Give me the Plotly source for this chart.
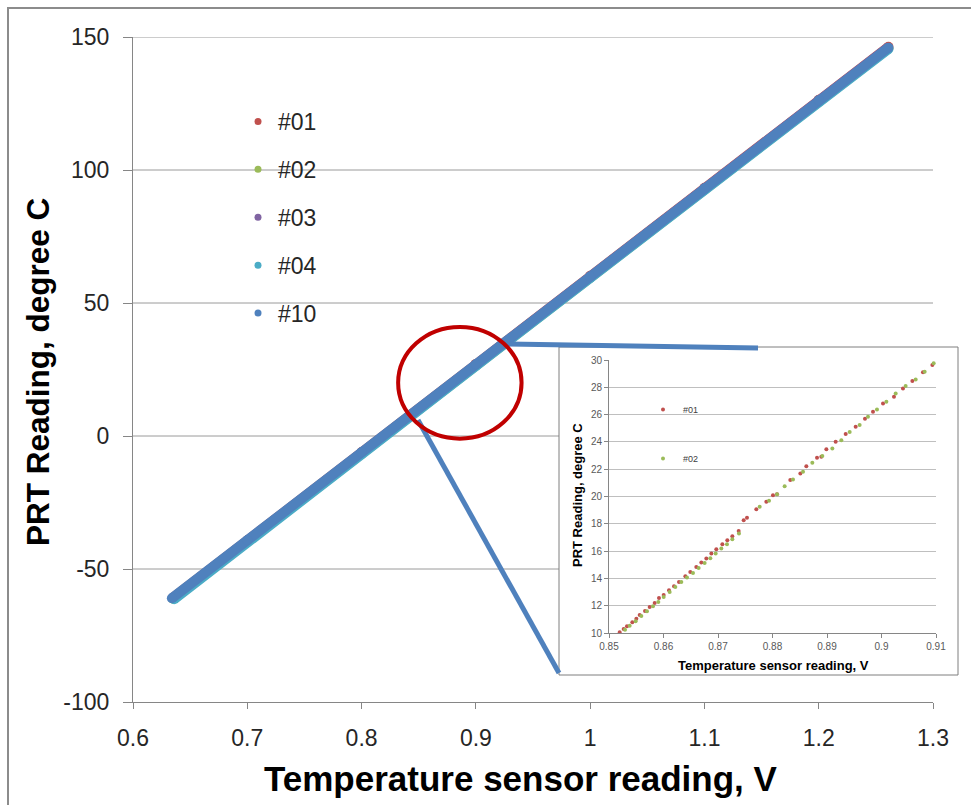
import plotly.graph_objects as go

# ---------------- data ----------------
series_names = ["#01", "#02", "#03", "#04", "#10"]
series_colors = ["#C0504D", "#9BBB59", "#8064A2", "#4BACC6", "#4F81BD"]

# main chart: sensor voltage (V) vs PRT reading (deg C)
v01 = [0.635, 0.700, 0.800, 0.900, 1.000, 1.100, 1.200, 1.261]
t01 = [-60.8, -39.2, -6.0, 27.1, 60.2, 93.3, 126.4, 146.3]
v02 = [0.635, 0.700, 0.800, 0.900, 1.000, 1.100, 1.200, 1.261]
t02 = [-61.2, -39.6, -6.5, 26.6, 59.7, 92.8, 125.9, 145.8]
v03 = [0.635, 0.700, 0.800, 0.900, 1.000, 1.100, 1.200, 1.260]
t03 = [-61.0, -39.4, -6.3, 26.8, 59.9, 93.0, 126.1, 145.8]
v04 = [0.636, 0.700, 0.800, 0.900, 1.000, 1.100, 1.200, 1.261]
t04 = [-61.4, -39.9, -6.8, 26.3, 59.4, 92.5, 125.6, 145.5]
v10 = [0.634, 0.700, 0.800, 0.900, 1.000, 1.100, 1.200, 1.261]
t10 = [-61.0, -39.2, -6.1, 27.0, 60.0, 93.1, 126.2, 146.0]
main_v = [v01, v02, v03, v04, v10]
main_t = [t01, t02, t03, t04, t10]

# inset (zoom 0.85-0.91 V): series #01 and #02
inset_v01 = [0.85196, 0.85269, 0.85330, 0.85428, 0.85502, 0.85563, 0.85661, 0.85746,
             0.85838, 0.85917, 0.86003, 0.86101, 0.86193, 0.86284, 0.86401, 0.86492,
             0.86602, 0.86694, 0.86786, 0.86878, 0.86969, 0.87080, 0.87171, 0.87263,
             0.87379, 0.87471, 0.87532, 0.87703, 0.87887, 0.88009, 0.88083, 0.88327,
             0.88511, 0.88621, 0.88817, 0.88896, 0.88988, 0.89159, 0.89343, 0.89526,
             0.89697, 0.89844, 0.90028, 0.90229, 0.90394, 0.90566, 0.90761, 0.90933]
inset_t01 = [10.05, 10.29, 10.49, 10.78, 11.05, 11.32, 11.61, 11.91,
             12.20, 12.57, 12.79, 13.13, 13.42, 13.74, 14.16, 14.47,
             14.84, 15.16, 15.45, 15.82, 16.14, 16.50, 16.80, 17.09,
             17.48, 18.26, 18.44, 19.07, 19.61, 20.10, 20.17, 21.20,
             21.69, 22.22, 22.84, 22.91, 23.47, 24.01, 24.57, 25.11,
             25.70, 26.21, 26.82, 27.31, 27.92, 28.46, 29.10, 29.63]
inset_v02 = [0.85294, 0.85379, 0.85489, 0.85593, 0.85697, 0.85807, 0.85905, 0.86003,
             0.86113, 0.86217, 0.86327, 0.86431, 0.86541, 0.86645, 0.86755, 0.86859,
             0.86957, 0.87061, 0.87165, 0.87263, 0.87385, 0.87765, 0.87936, 0.88083,
             0.88223, 0.88376, 0.88560, 0.88731, 0.88914, 0.89098, 0.89263, 0.89416,
             0.89599, 0.89752, 0.89917, 0.90089, 0.90260, 0.90443, 0.90627, 0.90792,
             0.90957]
inset_t02 = [10.24, 10.54, 10.86, 11.25, 11.59, 11.96, 12.27, 12.64,
             13.01, 13.37, 13.74, 14.06, 14.40, 14.77, 15.13, 15.48,
             15.82, 16.19, 16.50, 16.87, 17.29, 19.24, 19.68, 20.17,
             20.76, 21.25, 21.81, 22.47, 22.96, 23.52, 24.13, 24.72,
             25.23, 25.84, 26.38, 26.94, 27.55, 28.09, 28.58, 29.14,
             29.76]

main_xticks = [0.6, 0.7, 0.8, 0.9, 1.0, 1.1, 1.2, 1.3]
main_xlabels = ["0.6", "0.7", "0.8", "0.9", "1", "1.1", "1.2", "1.3"]
main_yticks = [-100, -50, 0, 50, 100, 150]
main_ylabels = ["-100", "-50", "0", "50", "100", "150"]
inset_xticks = [0.85, 0.86, 0.87, 0.88, 0.89, 0.90, 0.91]
inset_xlabels = ["0.85", "0.86", "0.87", "0.88", "0.89", "0.9", "0.91"]
inset_yticks = [10, 12, 14, 16, 18, 20, 22, 24, 26, 28, 30]

# ---------------- styling ----------------
W, H = 971, 805
SANS = "Liberation Sans, Arial, sans-serif"
AXIS_GRAY = "#868686"
GRID_GRAY = "#9A9A9A"

fig = go.Figure()

# main data (drawn as thick marker/line bands)
for name, col, vx, ty in zip(series_names, series_colors, main_v, main_t):
    fig.add_trace(go.Scatter(
        x=vx, y=ty, mode="lines+markers", name=name, showlegend=False,
        line=dict(color=col, width=10), marker=dict(color=col, size=10),
        xaxis="x", yaxis="y", hoverinfo="skip"))

# legend entries for the main chart (dots)
for name, col in zip(series_names, series_colors):
    fig.add_trace(go.Scatter(
        x=[None], y=[None], mode="markers", name=name, legendgroup=name,
        marker=dict(color=col, size=7), xaxis="x", yaxis="y", legend="legend"))

# inset data
for name, col, vx, ty in [("#01", series_colors[0], inset_v01, inset_t01),
                          ("#02", series_colors[1], inset_v02, inset_t02)]:
    fig.add_trace(go.Scatter(
        x=vx, y=ty, mode="markers", name=name, legendgroup="in" + name,
        marker=dict(color=col, size=4), xaxis="x2", yaxis="y2", legend="legend2"))

# domains
main_x_dom = [133 / W, 933 / W]
main_y_dom = [1 - 702 / H, 1 - 37 / H]
in_x_dom = [609 / W, 936 / W]
in_y_dom = [1 - 633 / H, 1 - 360 / H]
box = dict(x0=559 / W, x1=958 / W, y0=1 - 675 / H, y1=1 - 347 / H)

shapes = []
# outer frame of the pasted chart
shapes.append(dict(type="rect", xref="paper", yref="paper", x0=8 / W, x1=1.05,
                   y0=-0.05, y1=1 - 8 / H, line=dict(color="#8C8C8C", width=2),
                   fillcolor="rgba(0,0,0,0)", layer="below"))
# main horizontal gridlines
inset_left_frac = (box["x0"] - main_x_dom[0]) / (main_x_dom[1] - main_x_dom[0])
for yv in main_yticks[1:]:
    shapes.append(dict(type="line", xref="x domain", yref="y", x0=0,
                       x1=inset_left_frac if yv == -50 else 1, y0=yv, y1=yv,
                       line=dict(color=GRID_GRAY, width=1), layer="below"))
# inset frame
shapes.append(dict(type="rect", xref="paper", yref="paper", **box,
                   line=dict(color="#7F7F7F", width=1), fillcolor="white", layer="below"))
# connector lines
shapes.append(dict(type="line", xref="paper", yref="paper",
                   x0=502 / W, y0=1 - 344 / H, x1=758 / W, y1=1 - 348 / H,
                   line=dict(color="#4F81BD", width=5), layer="above"))
shapes.append(dict(type="line", xref="paper", yref="paper",
                   x0=418 / W, y0=1 - 420 / H, x1=559 / W, y1=1 - 673 / H,
                   line=dict(color="#4F81BD", width=5), layer="above"))
# zoom circle around the magnified region (data coordinates)
shapes.append(dict(type="circle", xref="x", yref="y", x0=0.832, x1=0.940, y0=-1, y1=41,
                   line=dict(color="#C00000", width=4), layer="above"))

annotations = [
    dict(text="<b>Temperature sensor reading, V</b>", xref="paper", yref="paper",
         x=521 / W, y=1 - 778 / H, showarrow=False, xanchor="center", yanchor="middle",
         font=dict(family=SANS, size=35, color="black")),
    dict(text="<b>PRT Reading, degree C</b>", xref="paper", yref="paper",
         x=38 / W, y=1 - 372 / H, showarrow=False, textangle=-90,
         xanchor="center", yanchor="middle",
         font=dict(family=SANS, size=31.5, color="black")),
    dict(text="<b>Temperature sensor reading, V</b>", xref="paper", yref="paper",
         x=773 / W, y=1 - 665 / H, showarrow=False, xanchor="center", yanchor="middle",
         font=dict(family=SANS, size=13, color="black")),
    dict(text="<b>PRT Reading, degree C</b>", xref="paper", yref="paper",
         x=577 / W, y=1 - 495 / H, showarrow=False, textangle=-90,
         xanchor="center", yanchor="middle",
         font=dict(family=SANS, size=13, color="black")),
]

fig.update_layout(
    width=W, height=H, autosize=False,
    margin=dict(l=0, r=0, t=0, b=0, autoexpand=False),
    paper_bgcolor="white", plot_bgcolor="white",
    shapes=shapes, annotations=annotations,
    xaxis=dict(domain=main_x_dom, anchor="y", range=[0.6, 1.3], tickvals=main_xticks,
               ticktext=main_xlabels, automargin=False, ticklabelstandoff=9,
               showgrid=False, zeroline=False, showline=True, linecolor=AXIS_GRAY,
               ticks="outside", ticklen=6, tickcolor=AXIS_GRAY,
               tickfont=dict(family=SANS, size=23, color="#262626")),
    yaxis=dict(domain=main_y_dom, anchor="x", range=[-100, 150], tickvals=main_yticks,
               ticktext=main_ylabels, automargin=False, ticklabelstandoff=9,
               showgrid=False, zeroline=False, showline=True, linecolor=AXIS_GRAY,
               ticks="outside", ticklen=9, tickcolor=AXIS_GRAY,
               tickfont=dict(family=SANS, size=23, color="#262626")),
    xaxis2=dict(domain=in_x_dom, anchor="y2", range=[0.85, 0.91], tickvals=inset_xticks,
                ticktext=inset_xlabels, automargin=False,
                showgrid=False, zeroline=False, showline=True, linecolor=AXIS_GRAY,
                ticks="outside", ticklen=4, tickcolor=AXIS_GRAY,
                tickfont=dict(family=SANS, size=10, color="#595959")),
    yaxis2=dict(domain=in_y_dom, anchor="x2", range=[10, 30], tickvals=inset_yticks,
                automargin=False,
                showgrid=True, gridcolor="#BFBFBF", zeroline=False, showline=True,
                linecolor=AXIS_GRAY, ticks="outside", ticklen=4, tickcolor=AXIS_GRAY,
                tickfont=dict(family=SANS, size=10, color="#595959")),
    legend=dict(x=238 / W, y=1 - 100 / H, xanchor="left", yanchor="top",
                bgcolor="rgba(0,0,0,0)", tracegroupgap=15,
                font=dict(family=SANS, size=23, color="#262626")),
    legend2=dict(x=643 / W, y=1 - 395 / H, xanchor="left", yanchor="top",
                 bgcolor="rgba(0,0,0,0)", tracegroupgap=30,
                 font=dict(family=SANS, size=9, color="#404040")),
)

fig.write_html("out.html")
